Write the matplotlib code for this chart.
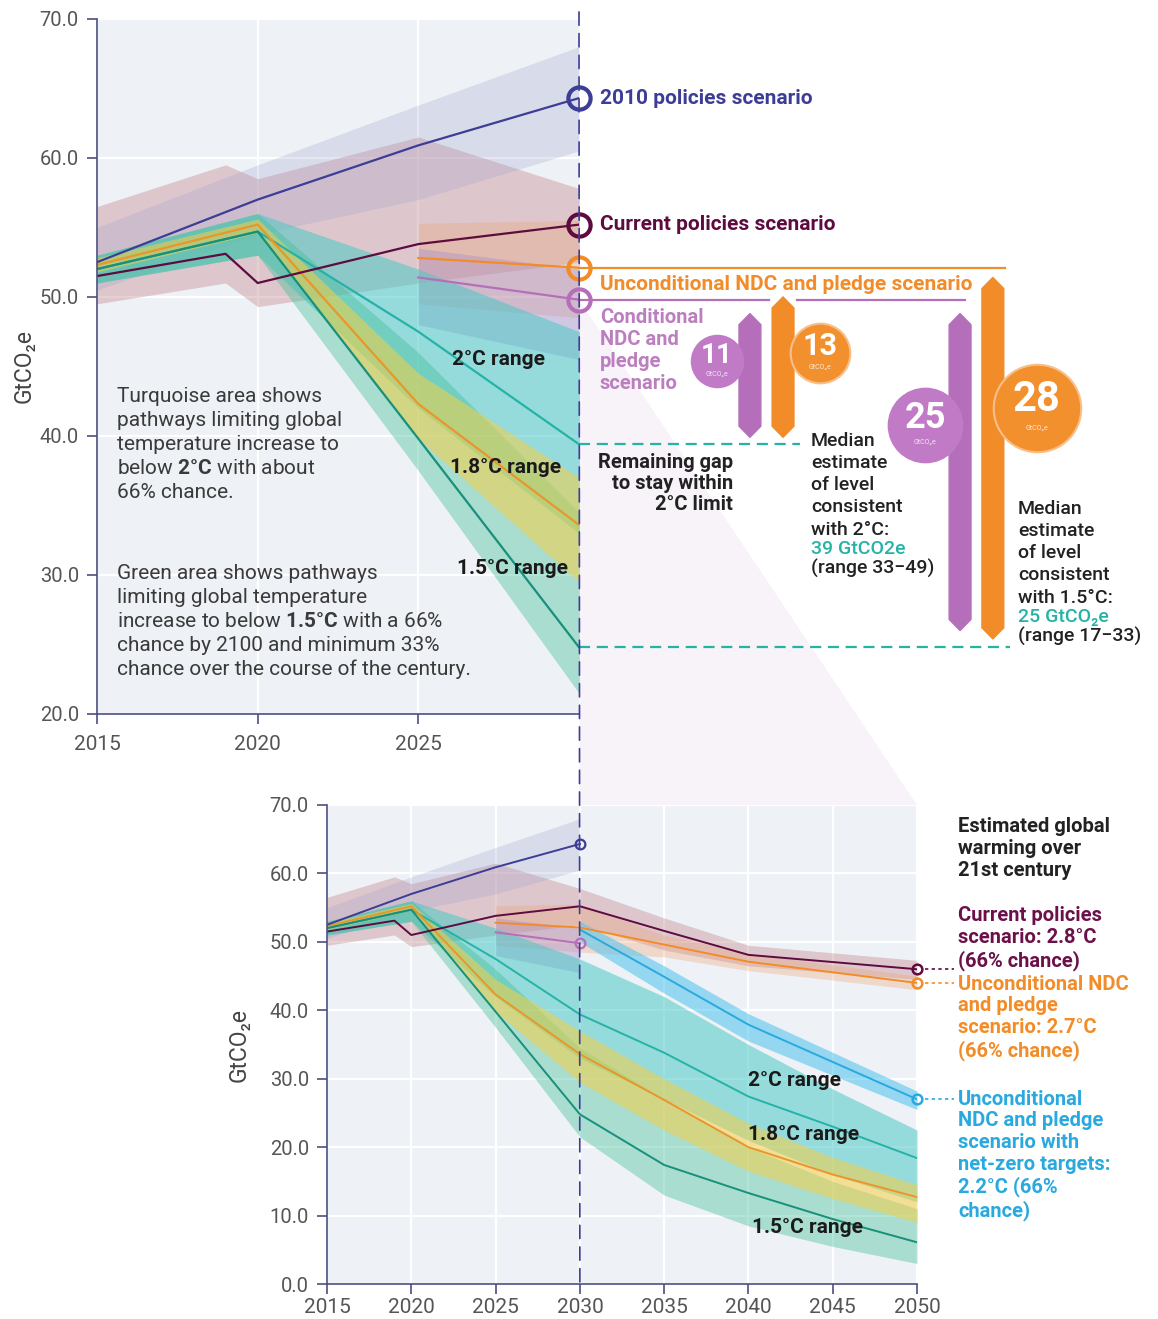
import matplotlib.pyplot as plt
from matplotlib.patches import Polygon, ConnectionPatch

plt.rcParams['font.family'] = ['Roboto', 'DejaVu Sans']
plt.rcParams['mathtext.fontset'] = 'custom'
plt.rcParams['mathtext.rm'] = 'Roboto'
plt.rcParams['mathtext.bf'] = 'Roboto:bold'

# ---- data (GtCO2e) ----
pol2010_years = [2015, 2020, 2025, 2030]
pol2010 = [52.5, 57.0, 60.9, 64.3]
pol2010_lo = [50.5, 54.5, 57.0, 60.5]
pol2010_hi = [55.0, 59.5, 63.8, 68.0]

current_years = [2015, 2019, 2020, 2025, 2030, 2035, 2040, 2050]
current = [51.5, 53.1, 51.0, 53.8, 55.2, 51.6, 48.1, 46.0]
current_lo = [49.5, 51.0, 49.3, 51.0, 52.5, 48.8, 46.5, 44.5]
current_hi = [56.5, 59.5, 58.5, 61.5, 57.8, 53.5, 49.5, 47.3]

uncond_years = [2025, 2030, 2035, 2040, 2050]
uncond = [52.8, 52.1, 49.6, 47.1, 44.0]
uncond_lo = [49.5, 48.5, 47.8, 45.8, 43.0]
uncond_hi = [55.3, 55.5, 51.0, 48.3, 45.0]

cond_years = [2025, 2030]
cond = [51.4, 49.8]
cond_lo = [48.0, 45.5]
cond_hi = [53.5, 52.0]

netzero_years = [2030, 2035, 2040, 2050]
netzero = [51.8, 44.9, 37.9, 27.0]
netzero_lo = [50.0, 42.5, 35.5, 25.5]
netzero_hi = [53.0, 46.5, 39.5, 28.2]

path_years = [2015, 2020, 2025, 2030, 2035, 2040, 2045, 2050]
p20 = [52.0, 54.7, 47.5, 39.4, 33.8, 27.4, 23.0, 18.4]
p20_lo = [51.0, 53.0, 42.0, 33.0, 27.0, 21.0, 16.0, 12.0]
p20_hi = [53.0, 56.0, 52.0, 47.5, 42.0, 35.0, 28.5, 22.5]
p18 = [52.3, 55.2, 42.3, 33.6, 26.9, 20.0, 16.0, 12.7]
p18_lo = [51.8, 54.6, 39.8, 29.5, 22.5, 16.5, 12.5, 9.0]
p18_hi = [52.8, 55.6, 44.5, 37.0, 30.0, 23.5, 18.5, 14.5]
p15 = [52.0, 54.7, 39.8, 24.8, 17.4, 13.3, 9.5, 6.1]
p15_lo = [51.0, 53.0, 37.5, 21.5, 13.0, 8.5, 5.5, 3.0]
p15_hi = [53.0, 56.0, 46.0, 34.5, 27.0, 20.0, 15.0, 11.0]

gaps = [11, 13, 25, 28]
range_labels = ['2°C range', '1.8°C range', '1.5°C range']

# ---- colours ----
NAVY = '#3d3d96'
MAROON = '#5e0b3f'
ORANGE = '#f28c28'
PURPLE = '#b56fba'
TEAL = '#25b3a6'
AMBER = '#e9962b'
GREEN = '#17907c'
SKY = '#2aa9df'
BG = '#eef1f5'
SPINE = '#4c5080'
TXT = '#3a3a3a'
DARK = '#222222'

fig = plt.figure(figsize=(11.58, 13.19), dpi=100)
ax1 = fig.add_axes([0.0838, 0.4587, 0.4162, 0.527])
ax2 = fig.add_axes([0.2824, 0.0265, 0.5095, 0.3632])


def style_axes(ax, xlim, ylim, xticks, yticks, xpad, ypad):
    ax.set_facecolor(BG)
    ax.set_xlim(*xlim)
    ax.set_ylim(*ylim)
    ax.set_xticks(xticks)
    ax.set_yticks(yticks)
    for s in ['top', 'right']:
        ax.spines[s].set_visible(False)
    for s in ['left', 'bottom']:
        ax.spines[s].set_color(SPINE)
        ax.spines[s].set_linewidth(1.2)
    ax.grid(color='white', lw=1.6)
    ax.set_axisbelow(True)
    ax.tick_params(color=SPINE, labelcolor='#555555', length=7, width=1.2)
    ax.tick_params(axis='y', labelsize=14.5, pad=6)
    ax.tick_params(axis='x', labelsize=15, pad=xpad)
    ax.yaxis.set_major_formatter('{x:.1f}')
    ax.set_ylabel('GtCO₂e', fontsize=16.5, color='#444444', labelpad=ypad)


def band(ax, x, lo, hi, color, alpha):
    ax.fill_between(x, lo, hi, color=color, alpha=alpha, lw=0)


def draw_scenarios(ax, lw):
    band(ax, current_years, current_lo, current_hi, '#c48a8f', 0.40)
    band(ax, pol2010_years, pol2010_lo, pol2010_hi, '#9a9ccc', 0.25)
    band(ax, uncond_years, uncond_lo, uncond_hi, '#f0a070', 0.30)
    band(ax, cond_years, cond_lo, cond_hi, '#a58cc8', 0.40)
    band(ax, path_years, p20_lo, p20_hi, '#4cc9c6', 0.55)
    band(ax, path_years, p15_lo, p15_hi, '#3fbf98', 0.40)
    band(ax, path_years, p18_lo, p18_hi, '#f6cf45', 0.55)
    band(ax, netzero_years, netzero_lo, netzero_hi, '#4cc3ee', 0.55)
    ax.plot(path_years, p20, color=TEAL, lw=lw)
    ax.plot(path_years, p18, color=AMBER, lw=lw)
    ax.plot(path_years, p15, color=GREEN, lw=lw)
    ax.plot(pol2010_years, pol2010, color=NAVY, lw=lw)
    ax.plot(current_years, current, color=MAROON, lw=lw)
    ax.plot(uncond_years, uncond, color=ORANGE, lw=lw)
    ax.plot(cond_years, cond, color=PURPLE, lw=lw)
    ax.plot(netzero_years, netzero, color=SKY, lw=lw)


style_axes(ax1, (2015, 2030), (20, 70), [2015, 2020, 2025], range(20, 71, 10), 8, 3)
style_axes(ax2, (2015, 2050), (0, 70), range(2015, 2051, 5), range(0, 71, 10), 3, 14)

draw_scenarios(ax1, 1.6)
draw_scenarios(ax2, 1.4)

cur30 = current[current_years.index(2030)]
unc30 = uncond[uncond_years.index(2030)]
cond30 = cond[-1]

# ---- top chart markers at 2030 ----
for v, col in [(pol2010[-1], NAVY), (cur30, MAROON), (unc30, ORANGE), (cond30, PURPLE)]:
    ax1.plot(2030, v, 'o', ms=16, mfc='none', mec=col, mew=3, clip_on=False, zorder=6)

# ---- bottom chart markers ----
for v, col in [(pol2010[-1], NAVY), (cond30, PURPLE)]:
    ax2.plot(2030, v, 'o', ms=7, mfc='none', mec=col, mew=1.6, clip_on=False, zorder=6)
for vals, col in [(current, MAROON), (uncond, ORANGE), (netzero, SKY)]:
    ax2.plot(2050, vals[-1], 'o', ms=7, mfc='none', mec=col, mew=1.8, clip_on=False, zorder=6)
    ax2.plot([2050.5, 2052.2], [vals[-1]] * 2, ls=(0, (2, 2)), color=col, lw=1.2, clip_on=False)

# ---- vertical dashed 2030 line ----
con = ConnectionPatch(xyA=(2030, 70.5), coordsA=ax1.transData, xyB=(2030, 0), coordsB=ax2.transData,
                      color=NAVY, lw=1.2, ls=(0, (8, 5)), zorder=5)
fig.add_artist(con)

# lavender zoom wedge
tf = fig.transFigure.inverted()
w1 = tf.transform(ax1.transData.transform((2030, cond30)))
w2 = tf.transform(ax2.transData.transform((2050, 70)))
w3 = tf.transform(ax2.transData.transform((2030, 70)))
fig.add_artist(Polygon([w1, w2, w3], closed=True, transform=fig.transFigure,
                       facecolor='#dcc0e4', alpha=0.2, lw=0, zorder=0))

# ---- top chart right-hand annotations ----
lab = dict(fontsize=15, fontweight='bold', va='center', ha='left')
ax1.text(2030.65, pol2010[-1], '2010 policies scenario', color=NAVY, **lab)
ax1.text(2030.65, cur30, 'Current policies scenario', color=MAROON, **lab)
ax1.text(2030.65, unc30 - 1.2, 'Unconditional NDC and pledge scenario', color=ORANGE, **lab)
ax1.text(2030.65, cond30 - 0.6, 'Conditional\nNDC and\npledge\nscenario', color='#bb7fc0',
         fontsize=14.5, fontweight='bold', va='top', ha='left', linespacing=1.2)

ax1.plot([2030, 2043.26], [unc30] * 2, color=ORANGE, lw=1.6, clip_on=False)
ax1.plot([2030, 2035.9], [cond30] * 2, color=PURPLE, lw=1.6, clip_on=False)
ax1.plot([2036.8, 2042.0], [cond30] * 2, color=PURPLE, lw=1.6, clip_on=False)
ax1.plot([2030, 2036.88], [p20[3]] * 2, color=TEAL, lw=1.6, ls=(0, (5, 3)), clip_on=False)
ax1.plot([2030, 2043.41], [p15[3]] * 2, color=TEAL, lw=1.6, ls=(0, (5, 3)), clip_on=False)


def gap_bar(ax, x, top, bottom, color):
    w, t = 0.34, 0.8
    pts = [(x - w, bottom + t), (x, bottom), (x + w, bottom + t),
           (x + w, top - t), (x, top), (x - w, top - t)]
    ax.add_patch(Polygon(pts, closed=True, facecolor=color, edgecolor=color, lw=1,
                         joinstyle='round', clip_on=False, zorder=4))


gap_bar(ax1, 2035.32, cond30 - 1.0, p20[3] + 0.5, PURPLE)
gap_bar(ax1, 2036.35, unc30 - 2.1, p20[3] + 0.5, ORANGE)
gap_bar(ax1, 2041.86, cond30 - 1.0, p15[3] + 1.2, PURPLE)
gap_bar(ax1, 2042.88, unc30 - 0.7, p15[3] + 0.6, ORANGE)

circles = [(2034.3, 45.4, 37, '#c07ac6', 20), (2037.5, 46.0, 43, '#f3902e', 22),
           (2040.77, 40.8, 53, '#c07ac6', 26), (2044.25, 42.0, 63, '#f3902e', 30)]
for (cx, cy, ms, col, fs), g in zip(circles, gaps):
    ax1.plot(cx, cy, 'o', ms=ms, mfc=col, mec='#f7c08a' if col == '#f3902e' else col,
             mew=1.5, clip_on=False, zorder=5)
    ax1.annotate(str(g), (cx, cy), xytext=(0, fs * 0.2), textcoords='offset points',
                 ha='center', va='center', color='white', fontsize=fs, fontweight='bold',
                 zorder=6, annotation_clip=False)
    ax1.annotate('GtCO₂e', (cx, cy), xytext=(0, -fs * 0.5), textcoords='offset points',
                 ha='center', va='center', color='white', fontsize=5, alpha=0.8,
                 zorder=6, annotation_clip=False)

ax1.text(2034.8, 38.8, 'Remaining gap\nto stay within\n2°C limit', ha='right', va='top',
         multialignment='right', fontsize=14.5, fontweight='bold', color=DARK, linespacing=1.13)

blk = dict(fontsize=14, va='top', ha='left', linespacing=1.3, fontweight='medium')
m1 = ax1.text(2037.22, 40.3, 'Median\nestimate\nof level\nconsistent\nwith 2°C:', color=DARK, **blk)
m2 = ax1.annotate('39 GtCO2e', (0, 0), xycoords=m1, xytext=(0, -1), textcoords='offset points',
                  color=TEAL, annotation_clip=False, **blk)
ax1.annotate('(range 33−49)', (0, 0), xycoords=m2, xytext=(0, -1), textcoords='offset points',
             color=DARK, annotation_clip=False, **blk)
n1 = ax1.text(2043.66, 35.4, 'Median\nestimate\nof level\nconsistent\nwith 1.5°C:', color=DARK, **blk)
n2 = ax1.annotate('25 GtCO₂e', (0, 0), xycoords=n1, xytext=(0, -1), textcoords='offset points',
                  color=TEAL, annotation_clip=False, **blk)
ax1.annotate('(range 17−33)', (0, 0), xycoords=n2, xytext=(0, -1), textcoords='offset points',
             color=DARK, annotation_clip=False, **blk)

# ---- range labels ----
rl = dict(fontsize=15, fontweight='bold', color='#1a1a1a', ha='center', va='center')
for (x, y), s in zip([(2027.48, 45.5), (2027.7, 37.7), (2027.92, 30.5)], range_labels):
    ax1.text(x, y, s, **rl)
for (x, y), s in zip([(2042.76, 29.8), (2043.24, 21.8), (2043.53, 8.2)], range_labels):
    ax2.text(x, y, s, **rl)

# ---- explanatory text ----
ax1.text(2015.62, 43.5, 'Turquoise area shows\npathways limiting global\ntemperature increase to\n'
         'below $\\mathbf{2°C}$ with about\n66% chance.', fontsize=15, color=TXT, va='top',
         ha='left', linespacing=1.33)
ax1.text(2015.62, 30.8, 'Green area shows pathways\nlimiting global temperature\n'
         'increase to below $\\mathbf{1.5°C}$ with a 66%\nchance by 2100 and minimum 33%\n'
         'chance over the course of the century.', fontsize=15, color=TXT, va='top',
         ha='left', linespacing=1.33)

# ---- bottom chart right-hand text ----
rt = dict(fontsize=14.5, fontweight='bold', va='top', ha='left', linespacing=1.18)
ax2.text(2052.43, 68.2, 'Estimated global\nwarming over\n21st century', color=DARK, **rt)
ax2.text(2052.43, 55.2, 'Current policies\nscenario: 2.8°C\n(66% chance)', color='#6b1048', **rt)
ax2.text(2052.43, 45.2, 'Unconditional NDC\nand pledge\nscenario: 2.7°C\n(66% chance)', color=ORANGE, **rt)
ax2.text(2052.43, 28.4, 'Unconditional\nNDC and pledge\nscenario with\nnet-zero targets:\n'
         '2.2°C (66%\nchance)', color=SKY, **rt)

fig.savefig('out.png', dpi=100, facecolor='white')
